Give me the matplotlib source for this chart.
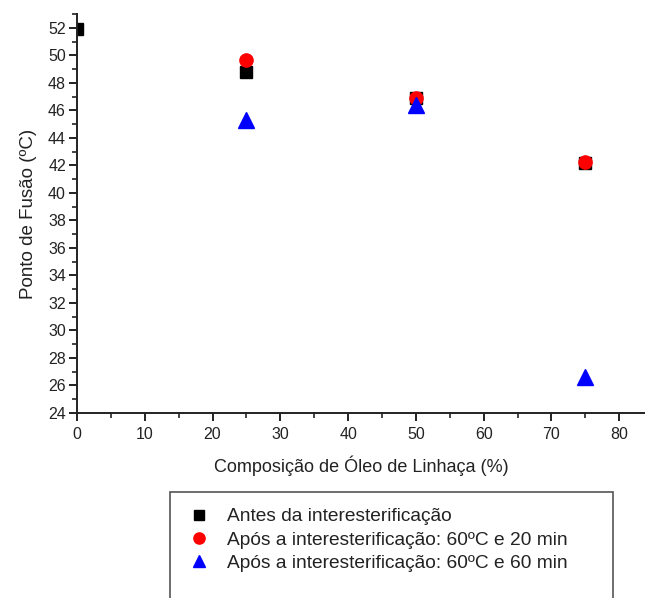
import numpy as np
import matplotlib.pyplot as plt
from matplotlib.patches import Rectangle
from matplotlib.ticker import MultipleLocator

plt.rcParams['font.family'] = ['Liberation Sans', 'DejaVu Sans']

# Data
x_antes = [0, 25, 50, 75]
y_antes = [51.9, 48.8, 46.9, 42.2]
x_20 = [25, 50, 75]
y_20 = [49.65, 46.9, 42.25]
x_60 = [25, 50, 75]
y_60 = [45.3, 46.35, 26.6]
labels = ['Antes da interesterificação',
          'Após a interesterificação: 60ºC e 20 min',
          'Após a interesterificação: 60ºC e 60 min']

fig = plt.figure(figsize=(6.45, 5.98), dpi=100)
ax = fig.add_axes([77/645, 1-413/598, 1-77/645, 399/598])

h1, = ax.plot(x_antes, y_antes, 's', color='black', markersize=8, linestyle='none', label=labels[0])
h2, = ax.plot(x_20, y_20, 'o', color='red', markersize=9.5, linestyle='none', label=labels[1])
h3, = ax.plot(x_60, y_60, '^', color='blue', markersize=11, linestyle='none', label=labels[2])

ax.set_xlim(0, 83.8)
ax.set_ylim(24, 53)
ax.xaxis.set_major_locator(MultipleLocator(10))
ax.xaxis.set_minor_locator(MultipleLocator(5))
ax.yaxis.set_major_locator(MultipleLocator(2))
ax.yaxis.set_minor_locator(MultipleLocator(1))
for s in ['top', 'right']:
    ax.spines[s].set_visible(False)
for s in ['left', 'bottom']:
    ax.spines[s].set_linewidth(1.4)
    ax.spines[s].set_color('#222222')
ax.tick_params(which='major', direction='out', length=6, width=1.4, labelsize=11.5, pad=2,
               color='#222222', labelcolor='#222222')
ax.tick_params(axis='x', which='major', pad=4)
ax.tick_params(which='minor', direction='out', length=3.6, width=1.2, color='#222222')

ax.set_xlabel('Composição de Óleo de Linhaça (%)', fontsize=13, labelpad=10, color='#222222')
ax.set_ylabel('Ponto de Fusão (ºC)', fontsize=13.5, labelpad=8, color='#222222')

# legend box
fig.patches.append(Rectangle((170/645, -0.05), (613-170)/645, 1.05-492/598,
                             transform=fig.transFigure, fill=False,
                             edgecolor='#555555', linewidth=1.2))
fig.legend(handles=[h1, h2, h3], loc='upper left',
           bbox_to_anchor=(189/645, 1-508/598), frameon=False,
           fontsize=13.8, handletextpad=1.0, handlelength=1.0, labelspacing=0.3,
           borderaxespad=0, borderpad=0, markerscale=0.85, labelcolor='#222222')

fig.savefig('out.png', dpi=100)
